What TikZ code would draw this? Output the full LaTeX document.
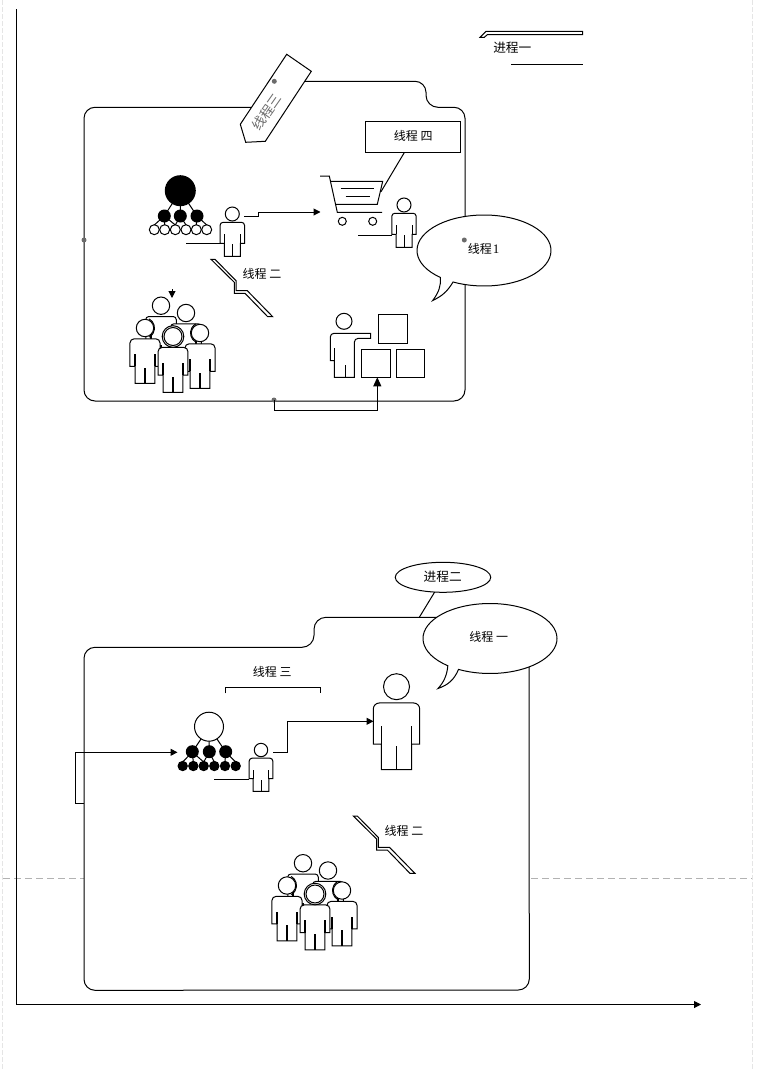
\documentclass[tikz,border=0pt]{standalone}
\usepackage{fontspec}
\setmainfont{Liberation Serif}
\newfontfamily\cjk{Noto Sans CJK SC}
\usetikzlibrary{arrows.meta,shapes.geometric}
\tikzset{
  every path/.append style={line width=1pt},
  lbl/.style={font=\cjk\fontsize{12}{14}\selectfont,inner sep=0pt},
  conn/.style={-{Triangle[length=7pt,width=7pt]}},
  gdot/.style={circle,fill=black!58,inner sep=0pt,minimum size=5pt},
  pagedash/.style={draw=gray!20,dash pattern=on 5pt off 2pt,line width=1.4pt},
  cutdash/.style={draw=gray!60,dash pattern=on 7pt off 4pt,line width=0.8pt},
  innerl/.style={},
}
% person: #1 head point, #2 x scale, #3 y scale, #4 corner rounding, #5 head radius
\newcommand{\person}[5]{%
 \begin{scope}[shift={(#1)},xscale=#2,yscale=#3]
  \draw[fill=white]
    (-8,42.3)--(-8,29.3)--(-12.2,29.3)[rounded corners=#4]--(-12.2,8.3)--(12.2,8.3)[sharp corners]--(12.2,29.3)--(8,29.3)--(8,42.3)--cycle;
  \draw[innerl] (-8,29.3)--(-8,20) (8,29.3)--(8,20) (0,42.3)--(0,30.3);
 \end{scope}
 \draw[fill=white] (#1) circle[radius=#5];}
\newcommand{\crowd}[2]{%
 \begin{scope}[shift={(#1,#2)},innerl/.style={line width=1.6pt}]
  \person{161,305.7}{1.25}{1.31}{3pt}{8.7}
  \person{186,313}{1.25}{1.31}{3pt}{8.7}
  \person{145,328}{1.23}{1.31}{4pt}{8.7}
  \draw (144,328) ++(-60:10.5) arc[start angle=-60,delta angle=120,radius=10.5];
  \person{200,333}{1.23}{1.31}{4pt}{8.7}
  \draw (201,333) ++(120:10.5) arc[start angle=120,delta angle=120,radius=10.5];
  \person{173,336.5}{1.22}{1.32}{4pt}{10.8}
  \draw (173,336.5) circle[radius=9];
 \end{scope}}
\newcommand{\zigzag}[2]{%
 \draw[shift={(#1,#2)},fill=white] (211,259.3)--(234.3,282.3)--(234.3,293.3)--(245,293.3)--(267.7,316.7)--(272.7,316.7)--(247.3,290.7)--(236,290.7)--(236,280.7)--(215,259.3)--cycle;}
\begin{document}
\begin{tikzpicture}[x=1pt,y=-1pt]
\useasboundingbox (0,0) rectangle (765,1071);
% page marks
\draw[pagedash] (2.5,0)--(2.5,1071);
\draw[pagedash] (752.5,0)--(752.5,1071);
\draw[cutdash] (3,878.5)--(752,878.5);
% axes
\coordinate (ax0) at (16.5,1004.5);
\coordinate (axtop) at (16.5,9);
\coordinate (axend) at (701,1004.5);
\draw (axtop)--(ax0);
\draw[conn] (ax0)--(axend);

% ---------- upper frame
\draw[fill=white] (95,107.3)--(260,107.3)--(280,81.3)
  --(415,81.3) arc[start angle=-90,delta angle=90,radius=11]
  --(426,95.3) arc[start angle=180,delta angle=-90,radius=12]
  --(454,107.3) arc[start angle=-90,delta angle=90,radius=11]
  --(465,390) arc[start angle=0,delta angle=90,radius=11]
  --(95,401) arc[start angle=90,delta angle=90,radius=11]
  --(84,118.3) arc[start angle=180,delta angle=90,radius=11]--cycle;
\node[gdot] (d1) at (84,240) {};
\node[gdot] (d2) at (274,400) {};

% tag
\draw[fill=white] (286.7,54.3)--(311.3,71.3)--(265.3,141.3)--(245.7,142.3)--(240.3,124.3)--cycle;
\node[gdot] (d3) at (274.3,81.3) {};
\node[lbl,rotate=55,text=gray!85!black,font=\cjk\fontsize{13.5}{15}\selectfont] (t3) at (266.7,112) {线程三};

% upper org chart
\foreach \x in {154.3,164.7,175.3,186,196.3,206.7}
  \draw[fill=white] (\x,229.7) circle[radius=5];
\draw (164.3,216)--(154.3,225) (164.3,216)--(164.7,225) (164.3,216)--(175.3,225)
      (180.3,216)--(175.3,225) (180.3,216)--(186,225)
      (197,216)--(196.3,225) (197,216)--(206.7,225)
      (180.3,191)--(164.3,216) (180.3,191)--(180.3,216) (180.3,191)--(197,216);
\foreach \x in {164.3,180.3,197}
  \fill (\x,216) circle[radius=6.5];
\fill (180.3,190.7) circle[radius=15.5];
\coordinate (p1l) at (186,243.3);
\coordinate (p1r) at (220.3,243.3);
\draw (p1l)--(p1r);
\person{232.3,214}{1}{1}{3pt}{7}
\coordinate (a1s) at (244,216.3);
\coordinate (a1e) at (320.5,212);
\draw[conn] (a1s)--(258.7,216.3)--(258.7,212)--(a1e);

% cart
\draw (320,176)--(329.3,176)--(337.3,212.3)--(382,212.3);
\draw (331,181.3)--(382.7,181.3)--(377.3,204.3)--(335.7,204.3);
\draw (340.7,188.7)--(374,188.7) (345.7,196.3)--(370,196.3);
\draw[fill=white] (342.3,221.3) circle[radius=4];
\draw[fill=white] (372.7,221.3) circle[radius=4];
\coordinate (cartp) at (381,191.7);
\node[draw,minimum width=95pt,minimum height=31pt,inner sep=0pt,fill=white] (b4) at (412.8,136.8) {};
\node[lbl] (t4) at (413.3,135.5) {线程 四};
\draw (404.3,152.6)--(cartp);
\coordinate (p2l) at (358,235.3);
\coordinate (p2r) at (392.3,235.3);
\draw (p2l)--(p2r);
\person{404,205}{1}{1}{3pt}{7}

% bubble 1
\draw[fill=white] (484,250.5)+(130.7:67 and 35.5) arc[start angle=130.7,delta angle=346.8,x radius=67,y radius=35.5]
   .. controls (447,292) and (442,296) .. (432.7,300.5) .. controls (439,292) and (441,286) .. cycle;
\node[gdot] (d4) at (464.3,240) {};
\node[lbl] (t1) at (483.7,249.3) {线程\kern1pt{\fontsize{13}{14}\selectfont\rmfamily 1}};

% process 1
\draw (480,37.3)--(486,31.3)--(582.7,31.3)--(582.7,34.7)--(487.3,34.7)--(484.3,37.3)--cycle;
\node[lbl,font=\cjk\fontsize{12.7}{14}\selectfont] (p1t) at (512.3,48) {进程一};
\coordinate (p1a) at (511,64);
\coordinate (p1b) at (582.7,64);
\draw (p1a)--(p1b);

% zigzag + crowd upper
\zigzag{0}{0}
\node[lbl] (t2) at (262,274) {线程 二};
\coordinate (ar0) at (172,289);
\coordinate (ar1) at (172,298);
\draw[conn] (ar0)--(ar1);
\crowd{0}{0}

% pointing person + boxes
\draw[fill=white] (330.3,360.7)--(330.3,337)  arc[start angle=180,delta angle=90,radius=3.7]
  --(370.7,333.3)--(370.7,338.3)--(358.3,338.3) arc[start angle=270,delta angle=-90,radius=4]
  --(354.3,377.3)--(334.3,377.3)--(334.3,360.7)--cycle;
\draw (334.3,360.7)--(334.3,348.3) (345.3,377.3)--(345.3,365);
\draw[fill=white] (344,321.3) circle[radius=8];
\node[draw,minimum width=29.4pt,minimum height=29pt,inner sep=0pt] (bx1) at (393,328.8) {};
\node[draw,minimum width=29.4pt,minimum height=28pt,inner sep=0pt] (bx2) at (376,363.3) {};
\node[draw,minimum width=28.4pt,minimum height=28pt,inner sep=0pt] (bx3) at (410.5,363.3) {};
\draw[-{Triangle[length=9pt,width=8pt]}] (d2.center)--(274,410.3)--(377.3,410.3)--(377.3,377.3);

% ---------- lower frame
\draw[fill=white] (95,647.3)--(302,647.3) arc[start angle=90,delta angle=-90,radius=12]
  --(314,629.3) arc[start angle=180,delta angle=90,radius=12]
  --(518,617.3) arc[start angle=-90,delta angle=90,radius=11]
  --(529.3,979) arc[start angle=0,delta angle=90,radius=11]
  --(95,990.3) arc[start angle=90,delta angle=90,radius=11]
  --(84,658.3) arc[start angle=180,delta angle=90,radius=11]--cycle;

% process 2
\node[draw,ellipse,minimum width=95.5pt,minimum height=30pt,inner sep=0pt,fill=white] (e2) at (443,577.3) {};
\node[lbl,font=\cjk\fontsize{12.7}{14}\selectfont] (p2t) at (442.7,577) {进程二};
\coordinate (e2j) at (419.3,617.3);
\draw (434.7,592)--(e2j);

% bubble 2
\draw[fill=white] (490,638.5)+(129:67 and 35) arc[start angle=129,delta angle=349,x radius=67,y radius=35]
   .. controls (454,680) and (448,685) .. (438,688.5) .. controls (444,682) and (447,675) .. cycle;
\node[lbl] (t5) at (488.7,637) {线程 一};

% bracket
\node[lbl] (t6) at (272.3,671.7) {线程 三};
\draw (225.7,693.3)--(225.7,687.3)--(320.3,687.3)--(320.3,693.3);

% lower org chart
\draw (192.3,752)--(182.7,762) (192.3,752)--(193.3,762) (192.3,752)--(203.7,762)
      (209.3,752)--(203.7,762) (209.3,752)--(214.3,762)
      (225.7,752)--(225,762) (225.7,752)--(235.7,762)
      (209,727)--(192.3,752) (209,727)--(209.3,752) (209,727)--(225.7,752);
\foreach \x in {182.7,193.3,203.7,214.3,225,235.7}
  \fill (\x,766) circle[radius=5.2];
\foreach \x in {192.3,209.3,225.7}
  \fill (\x,751.7) circle[radius=6.5];
\draw[fill=white] (209,726.7) circle[radius=14.5];
\coordinate (l2a) at (75.3,803.3);
\coordinate (l2b) at (84,803.3);
\coordinate (l2e) at (177.5,752.3);
\draw[conn] (l2b)--(l2a)--(75.3,752.3)--(l2e);

\coordinate (p3l) at (214,779.3);
\coordinate (p3r) at (249.3,779.3);
\draw (p3l)--(p3r);
\person{261,750}{0.97}{0.98}{3pt}{6.7}
\coordinate (a3s) at (273,752.3);
\coordinate (a3e) at (373.5,721.3);
\person{396.5,686.7}{1.9}{1.96}{6pt}{13}
\draw[conn] (a3s)--(287.3,752.3)--(287.3,721.3)--(a3e);

% zigzag + crowd lower
\zigzag{142.3}{556.7}
\node[lbl] (t7) at (404,831) {线程 二};
\crowd{142}{557.5}
\end{tikzpicture}
\end{document}
